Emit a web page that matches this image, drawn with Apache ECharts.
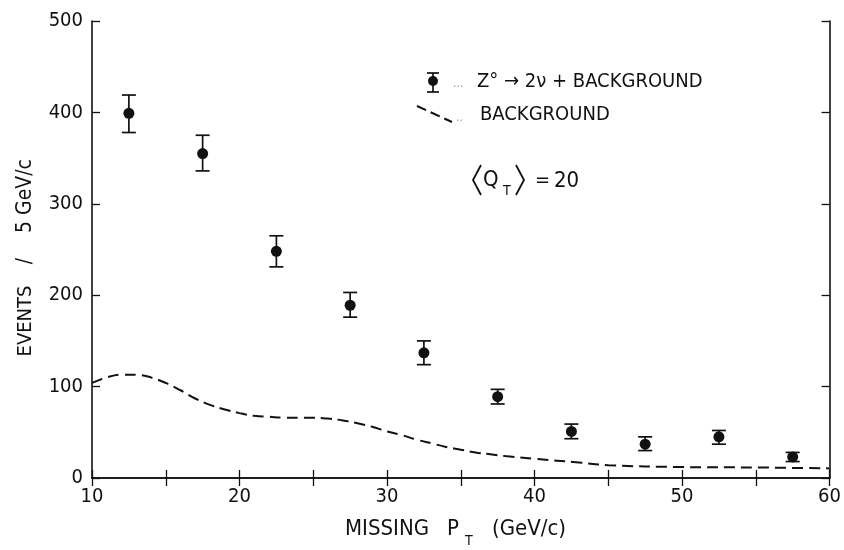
<!DOCTYPE html>
<html>
<head>
<meta charset="utf-8">
<script src="https://cdn.jsdelivr.net/npm/echarts@6/dist/echarts.min.js"></script>
<style>html,body{margin:0;padding:0;background:#fff}#c{width:844px;height:550px}</style>
</head>
<body>
<div id="c"></div>
<script>
// ---- data ----
const binCenters = [12.5, 17.5, 22.5, 27.5, 32.5, 37.5, 42.5, 47.5, 52.5, 57.5];
const eventCounts = [399, 355, 248, 189, 137, 89, 51, 37, 45, 23];
const errLow  = [378, 336, 231, 176, 124, 81, 43, 30, 37, 18];
const errHigh = [419, 375, 265, 203, 150, 97, 59, 45, 52, 28];
const bgX = [10, 11, 12, 13, 14, 15, 16, 17, 18, 19, 20, 21, 22, 23, 24, 25, 26, 27, 28, 29, 30, 31, 32, 33, 34, 35, 36, 37, 38, 40, 43, 45, 50, 55, 60];
const bgY = [104, 110, 113, 113, 110, 104, 96, 87, 80, 75, 71, 68, 67, 66, 66, 66, 65, 63, 60, 56, 51, 47, 42, 38, 34, 31, 28, 26, 24, 21, 17, 14, 12, 11.5, 10.5];
const xTicks = [10, 20, 30, 40, 50, 60];
const yTicks = [0, 100, 200, 300, 400, 500];

const FONT = "'DejaVu Sans Condensed', 'Liberation Sans Narrow', 'DejaVu Sans', sans-serif";
const INK = '#111';

const chart = echarts.init(document.getElementById('c'), null, {renderer: 'canvas'});

const axisCommon = {
  axisLine: {show: true, lineStyle: {color: INK, width: 1.6}},
  axisTick: {show: true, inside: true, length: 8, lineStyle: {color: INK, width: 1.3}},
  splitLine: {show: false}
};

function txt(x, y, s, size, extra) {
  return Object.assign({
    type: 'text', x: x, y: y,
    style: {text: s, font: size + 'px ' + FONT, fill: INK, textAlign: 'left', textVerticalAlign: 'middle'}
  }, extra || {});
}
function vtxt(x, y, s, size) {
  return {
    type: 'text', x: x, y: y, rotation: Math.PI / 2,
    style: {text: s, font: size + 'px ' + FONT, fill: INK, textAlign: 'center', textVerticalAlign: 'middle'}
  };
}

const option = {
  backgroundColor: '#fff',
  animation: false,
  grid: {left: 92, right: 11, top: 21, bottom: 72, containLabel: false},
  xAxis: [
    Object.assign({
      type: 'value', min: 10, max: 60, interval: 5, position: 'bottom',
      axisLabel: {
        color: INK, fontFamily: FONT, fontSize: 20, margin: 9,
        formatter: v => xTicks.indexOf(v) >= 0 ? String(v) : ''
      }
    }, axisCommon),
    Object.assign({
      type: 'value', min: 10, max: 60, interval: 5, position: 'top',
      axisLabel: {show: false}
    }, axisCommon)
  ],
  yAxis: [
    Object.assign({
      type: 'value', min: 0, max: 500, interval: 100, position: 'left',
      axisLabel: {
        color: INK, fontFamily: FONT, fontSize: 20, margin: 9,
        formatter: v => yTicks.indexOf(v) >= 0 ? String(v) : ''
      }
    }, axisCommon),
    Object.assign({
      type: 'value', min: 0, max: 500, interval: 100, position: 'right',
      axisLabel: {show: false}
    }, axisCommon)
  ],
  series: [
    {
      type: 'line',
      data: bgX.map((x, i) => [x, bgY[i]]),
      smooth: 0.4,
      symbol: 'none',
      lineStyle: {color: INK, width: 2, type: [11, 6]},
      z: 2
    },
    {
      type: 'custom',
      data: binCenters.map((x, i) => [x, errLow[i], errHigh[i]]),
      renderItem: function (params, api) {
        const lo = api.coord([api.value(0), api.value(1)]);
        const hi = api.coord([api.value(0), api.value(2)]);
        const hw = 7;
        const st = {stroke: INK, lineWidth: 1.7};
        return {
          type: 'group',
          children: [
            {type: 'line', shape: {x1: lo[0], y1: lo[1], x2: hi[0], y2: hi[1]}, style: st},
            {type: 'line', shape: {x1: hi[0] - hw, y1: hi[1], x2: hi[0] + hw, y2: hi[1]}, style: st},
            {type: 'line', shape: {x1: lo[0] - hw, y1: lo[1], x2: lo[0] + hw, y2: lo[1]}, style: st}
          ]
        };
      },
      z: 3
    },
    {
      type: 'scatter',
      data: binCenters.map((x, i) => [x, eventCounts[i]]),
      symbol: 'circle',
      symbolSize: 11,
      itemStyle: {color: INK, opacity: 1},
      emphasis: {disabled: true},
      z: 4
    }
  ],
  graphic: [
    // y axis title
    vtxt(26, 321, 'EVENTS', 20),
    vtxt(26, 261, '/', 21),
    vtxt(26, 196, '5 GeV/c', 21),
    // x axis title
    txt(345, 529, 'MISSING', 22),
    txt(447, 529, 'P', 22),
    txt(465, 541, 'T', 14),
    txt(492, 529, '(GeV/c)', 22),
    // legend: error bar symbol
    {type: 'line', shape: {x1: 433, y1: 73, x2: 433, y2: 92}, style: {stroke: INK, lineWidth: 1.7}},
    {type: 'line', shape: {x1: 427, y1: 73, x2: 439, y2: 73}, style: {stroke: INK, lineWidth: 1.7}},
    {type: 'line', shape: {x1: 427, y1: 92, x2: 439, y2: 92}, style: {stroke: INK, lineWidth: 1.7}},
    {type: 'circle', shape: {cx: 433, cy: 81, r: 5}, style: {fill: INK}},
    txt(453, 84, '...', 12, {style: {text: '...', font: '12px ' + FONT, fill: '#999', textVerticalAlign: 'middle'}}),
    txt(477, 82, 'Z° → 2ν + BACKGROUND', 20),
    // legend: dashed line
    {type: 'line', shape: {x1: 417, y1: 106, x2: 452, y2: 122}, style: {stroke: INK, lineWidth: 2, lineDash: [10, 5]}},
    txt(456, 118, '..', 12, {style: {text: '..', font: '12px ' + FONT, fill: '#999', textVerticalAlign: 'middle'}}),
    txt(480, 115, 'BACKGROUND', 20),
    // <Q_T> = 20
    {type: 'polyline', shape: {points: [[481, 165], [473, 180], [481, 195]]}, style: {stroke: INK, lineWidth: 1.8, fill: null}},
    txt(483, 180, 'Q', 22),
    txt(503, 191, 'T', 14),
    {type: 'polyline', shape: {points: [[516, 165], [524, 180], [516, 195]]}, style: {stroke: INK, lineWidth: 1.8, fill: null}},
    txt(535, 181, '=', 20),
    txt(554, 181, '20', 22)
  ]
};
chart.setOption(option);
</script>
</body>
</html>
